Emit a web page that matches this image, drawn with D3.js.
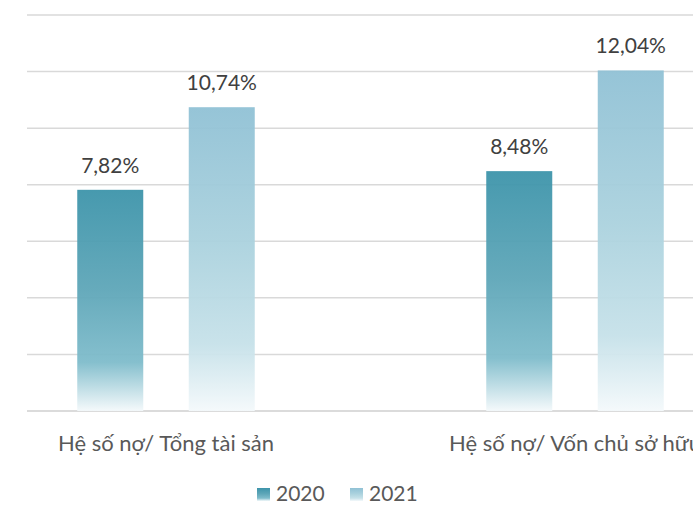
<!DOCTYPE html>
<html>
<head>
<meta charset="utf-8">
<script src="https://cdn.jsdelivr.net/npm/d3@7"></script>
<style>
  html, body { margin: 0; padding: 0; background: #fff; }
  svg { display: block; font-family: Lato, "Open Sans", sans-serif; }
</style>
</head>
<body>
<div id="chart"></div>
<script>
// Debt ratios by year
const categories = ["Hệ số nợ/ Tổng tài sản", "Hệ số nợ/ Vốn chủ sở hữu"];
const years = ["2020", "2021"];
const values2020 = [7.82, 8.48];
const values2021 = [10.74, 12.04];
const yTicks = [0, 2, 4, 6, 8, 10, 12, 14];

const W = 693, H = 506;
const svg = d3.select("#chart").append("svg").attr("width", W).attr("height", H);

const plotLeft = 27, plotRight = W;
const y = d3.scaleLinear().domain([0, 14]).range([411, 15]);

// Category bands extend past the visible area on both sides
const x0 = d3.scaleBand().domain(categories).range([-38.5, 779.5]).paddingInner(0).paddingOuter(0);
const x1 = d3.scaleBand().domain(years)
  .range([115.75, 293.25]).paddingInner(0.408).paddingOuter(0);

const seriesColors = {
  "2020": [["0%", "#3d94aa"], ["45%", "#5ea6b8"], ["78%", "#7fbccb"], ["100%", "#f4f9fb"]],
  "2021": [["0%", "#90c1d5"], ["45%", "#abd2de"], ["78%", "#c6e1e9"], ["100%", "#f4f9fb"]]
};

const defs = svg.append("defs");
years.forEach(yr => {
  const g = defs.append("linearGradient").attr("id", "grad" + yr)
    .attr("x1", 0).attr("y1", 0).attr("x2", 0).attr("y2", 1);
  seriesColors[yr].forEach(([o, c]) => g.append("stop").attr("offset", o).attr("stop-color", c));
});

// Horizontal gridlines
svg.append("g").selectAll("line").data(yTicks).join("line")
  .attr("x1", plotLeft).attr("x2", plotRight)
  .attr("y1", d => y(d)).attr("y2", d => y(d))
  .attr("stroke", d => d === 0 ? "#cfcfcf" : "#d9d9d9")
  .attr("stroke-width", 1.5);

const rows = categories.map((c, i) => ({ cat: c, vals: [
  { year: "2020", v: values2020[i] },
  { year: "2021", v: values2021[i] }
]}));

const groups = svg.append("g").selectAll("g").data(rows).join("g")
  .attr("transform", d => `translate(${x0(d.cat)},0)`);

groups.selectAll("rect").data(d => d.vals).join("rect")
  .attr("x", d => x1(d.year))
  .attr("width", x1.bandwidth())
  .attr("y", d => y(d.v))
  .attr("height", d => y(0) - y(d.v))
  .attr("fill", d => `url(#grad${d.year})`)
  .attr("opacity", 0.95);

groups.selectAll("text.val").data(d => d.vals).join("text")
  .attr("class", "val")
  .attr("x", d => x1(d.year) + x1.bandwidth() / 2)
  .attr("y", d => y(d.v) - 17)
  .attr("text-anchor", "middle")
  .attr("font-size", 21)
  .attr("fill", "#404040")
  .text(d => d.v.toFixed(2).replace(".", ",") + "%");

// Category axis labels (the second one runs past the right edge)
svg.append("g").selectAll("text").data(categories).join("text")
  .attr("x", d => x0(d) + x0.bandwidth() / 2)
  .attr("y", 451)
  .attr("text-anchor", "middle")
  .attr("font-size", 22)
  .attr("fill", "#595959")
  .text(d => d);

// Legend
const legendX = [257, 350];
const leg = svg.append("g").selectAll("g").data(years).join("g")
  .attr("transform", (d, i) => `translate(${legendX[i]},0)`);
leg.append("rect").attr("x", 0).attr("y", 488).attr("width", 13).attr("height", 13)
  .attr("fill", d => `url(#grad${d})`);
leg.append("text").attr("x", 19).attr("y", 501)
  .attr("font-size", 21).attr("fill", "#595959").text(d => d);
</script>
</body>
</html>
